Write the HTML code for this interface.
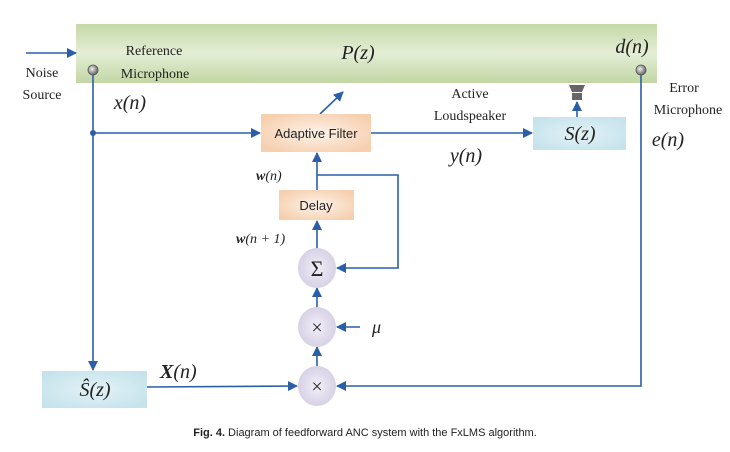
<!DOCTYPE html>
<html><head><meta charset="utf-8"><style>
body{margin:0;background:#fff;}
</style></head><body>
<svg width="730" height="447" viewBox="0 0 730 447" xmlns="http://www.w3.org/2000/svg" style="font-family:'Liberation Serif',serif">
<defs>
<marker id="a" markerWidth="10" markerHeight="10" refX="9" refY="5" orient="auto" markerUnits="userSpaceOnUse"><path d="M0,0 L10,5 L0,10 z" fill="#2a5fa8"/></marker>
<linearGradient id="g" x1="0" y1="0" x2="0" y2="1"><stop offset="0" stop-color="#c5d9a8"/><stop offset="0.5" stop-color="#e4eed6"/><stop offset="1" stop-color="#c2d6a4"/></linearGradient>
<radialGradient id="o" cx="0.5" cy="0.5" r="0.6"><stop offset="0" stop-color="#fdf3ea"/><stop offset="1" stop-color="#f6cfae"/></radialGradient>
<radialGradient id="b" cx="0.5" cy="0.5" r="0.6"><stop offset="0" stop-color="#e3f2f6"/><stop offset="1" stop-color="#c6e3ec"/></radialGradient>
<radialGradient id="c" cx="0.5" cy="0.5" r="0.6"><stop offset="0" stop-color="#f2eff7"/><stop offset="1" stop-color="#d2cbe2"/></radialGradient>
<radialGradient id="m" cx="0.4" cy="0.4" r="0.6"><stop offset="0" stop-color="#eee"/><stop offset="1" stop-color="#666"/></radialGradient>
</defs>
<rect x="76" y="24" width="581" height="59" fill="url(#g)"/>
<g stroke="#2a5fa8" stroke-width="1.6" fill="none">
<line x1="26" y1="53" x2="76" y2="53" marker-end="url(#a)"/>
<line x1="93" y1="70" x2="93" y2="370" marker-end="url(#a)"/>
<line x1="93" y1="133" x2="260" y2="133" marker-end="url(#a)"/>
<line x1="320" y1="114" x2="343" y2="92" marker-end="url(#a)"/>
<line x1="371" y1="133" x2="532" y2="133" marker-end="url(#a)"/>
<line x1="577" y1="117" x2="577" y2="102" marker-end="url(#a)"/>
<polyline points="641,70 641,386 337,386" marker-end="url(#a)"/>
<line x1="317" y1="190" x2="317" y2="153" marker-end="url(#a)"/>
<polyline points="317,175 398,175 398,268 337,268"  marker-end="url(#a)"/>
<line x1="317" y1="249" x2="317" y2="221" marker-end="url(#a)"/>
<line x1="317" y1="308" x2="317" y2="288" marker-end="url(#a)"/>
<line x1="317" y1="367" x2="317" y2="347" marker-end="url(#a)"/>
<line x1="360" y1="327" x2="337" y2="327" marker-end="url(#a)"/>
<line x1="147" y1="387" x2="297" y2="386" marker-end="url(#a)"/>
</g>
<circle cx="93" cy="133" r="3" fill="#2a5fa8"/>
<circle cx="93" cy="70" r="5" fill="url(#m)" stroke="#555" stroke-width="0.8"/>
<circle cx="641" cy="70" r="5" fill="url(#m)" stroke="#555" stroke-width="0.8"/>
<path d="M569,85 L585,85 L582,92 L572,92 z M572,93 L582,93 L582,100 L572,100 z" fill="#666"/>
<rect x="261" y="114" width="110" height="38" fill="url(#o)"/>
<rect x="279" y="190" width="75" height="30" fill="url(#o)"/>
<rect x="533" y="117" width="93" height="33" fill="url(#b)"/>
<rect x="42" y="371" width="105" height="37" fill="url(#b)"/>
<ellipse cx="317" cy="268" rx="19" ry="20" fill="url(#c)"/>
<ellipse cx="317" cy="327" rx="19" ry="20" fill="url(#c)"/>
<ellipse cx="317" cy="386" rx="19" ry="20" fill="url(#c)"/>
<g font-size="14" fill="#222">
<text x="42" y="77" text-anchor="middle">Noise</text>
<text x="42" y="99" text-anchor="middle">Source</text>
<text x="154" y="55" text-anchor="middle">Reference</text>
<text x="155" y="78" text-anchor="middle">Microphone</text>
<text x="470" y="98" text-anchor="middle">Active</text>
<text x="470" y="120" text-anchor="middle">Loudspeaker</text>
<text x="684" y="92" text-anchor="middle">Error</text>
<text x="688" y="114" text-anchor="middle">Microphone</text>
<text x="316" y="138" text-anchor="middle" style="font-family:'Liberation Sans',sans-serif;font-size:13px">Adaptive Filter</text>
<text x="316" y="210" text-anchor="middle" style="font-family:'Liberation Sans',sans-serif;font-size:13px">Delay</text>
</g>
<g font-size="20" font-style="italic" fill="#222">
<text x="358" y="59" text-anchor="middle">P(z)</text>
<text x="632" y="53" text-anchor="middle">d(n)</text>
<text x="130" y="109" text-anchor="middle">x(n)</text>
<text x="466" y="162" text-anchor="middle">y(n)</text>
<text x="668" y="146" text-anchor="middle">e(n)</text>
<text x="580" y="140" text-anchor="middle">S(z)</text>
<text x="95" y="396" text-anchor="middle">Ŝ(z)</text>
<text x="372" y="333" font-size="18">μ</text>
<text x="160" y="378" font-weight="bold">X<tspan font-weight="normal">(n)</tspan></text>
<text x="256" y="180" font-size="14" font-weight="bold">w<tspan font-weight="normal">(n)</tspan></text>
<text x="236" y="243" font-size="14" font-weight="bold">w<tspan font-weight="normal">(n + 1)</tspan></text>
</g>
<g font-size="22" fill="#222" text-anchor="middle">
<text x="317" y="276">Σ</text>
<text x="317" y="334" font-size="20">×</text>
<text x="317" y="393" font-size="20">×</text>
</g>
<text x="365" y="436" text-anchor="middle" style="font-family:'Liberation Sans',sans-serif;font-size:11px" fill="#222"><tspan font-weight="bold">Fig. 4.</tspan> Diagram of feedforward ANC system with the FxLMS algorithm.</text>
</svg>
</body></html>
